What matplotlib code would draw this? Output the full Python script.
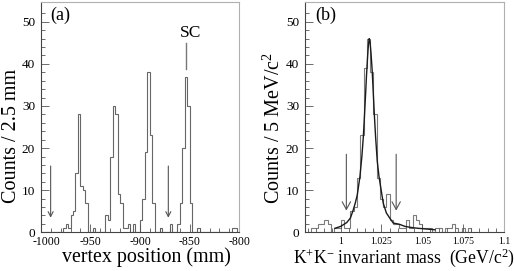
import numpy as np
import matplotlib
matplotlib.use("Agg")
import matplotlib.pyplot as plt
import matplotlib.transforms as mtransforms

plt.rcParams['font.family'] = ['Liberation Serif', 'DejaVu Serif']
plt.rcParams['mathtext.fontset'] = 'custom'
plt.rcParams['mathtext.rm'] = 'Liberation Serif'
plt.rcParams['mathtext.it'] = 'Liberation Serif:italic'
plt.rcParams['axes.unicode_minus'] = False

# (a) vertex position histogram, 2.5 mm bins from -1000 to -800
vtx_start = -1000.0
vtx_bin = 2.5
vtx_counts = [0, 0, 0, 0, 0, 0, 0, 0, 0, 1,
              2, 1, 4, 5, 14, 28, 11, 10, 7, 0,
              0, 1, 0, 0, 0, 0, 4, 3, 18, 30,
              28, 9, 7, 1, 1, 2, 0, 2, 0, 0,
              3, 8, 19, 38, 23, 7, 0, 0, 1, 0,
              0, 0, 2, 0, 0, 2, 7, 20, 37, 30,
              7, 0, 0, 1, 0, 0, 0, 0, 0, 0,
              0, 0, 0, 0, 0, 0, 0, 1, 1, 0]
vtx_arrows = [-990.0, -871.5]
sc_pos = -853.5

# (b) K+K- invariant mass histogram, 2 MeV bins from 0.982
mass_start = 0.982
mass_bin = 0.002
mass_counts = [1, 1, 2, 2, 3, 2, 0, 1, 1, 3,
               1, 1, 5, 6, 13, 23, 39, 46, 38, 28,
               13, 8, 6, 9, 3, 2, 2, 1, 1, 3,
               1, 4, 3, 2, 1, 1, 1, 0, 1, 1,
               0, 1, 1, 2, 1, 0, 1, 0, 1]
# fit curve
fit_x = [0.9965, 1.0000, 1.0037, 1.0060, 1.0077, 1.0090, 1.0102, 1.0118,
         1.0130, 1.0139, 1.0145, 1.0153, 1.0158, 1.0165, 1.0170, 1.0175,
         1.0180, 1.0186, 1.0193, 1.0200, 1.0207, 1.0214, 1.0224, 1.0235,
         1.0261, 1.0280, 1.0302, 1.0322, 1.0360, 1.0394, 1.0440, 1.0475,
         1.0520, 1.0577]
fit_y = [0.95, 1.4, 2.3, 3.4, 5.3, 7.0, 8.9, 13.2,
         18.0, 22.7, 27.0, 33.0, 37.0, 41.7, 44.5, 46.0,
         45.2, 42.5, 38.5, 33.0, 27.5, 22.7, 17.0, 13.2,
         6.9, 4.6, 3.3, 2.2, 1.9, 1.4, 1.1, 0.95,
         0.8, 0.6]
mass_arrows = [1.0035, 1.0340]

fig = plt.figure(figsize=(5.14, 2.71), dpi=100)
ax1 = fig.add_axes([0.0792, 0.1428, 0.3864, 0.8498])
ax2 = fig.add_axes([0.5928, 0.1428, 0.3877, 0.8498])

hist_col = '#666666'
arrow_col = '#555555'


def style_axes(ax):
    for s in ['left', 'bottom']:
        ax.spines[s].set_color('#444444')
        ax.spines[s].set_linewidth(0.8)
    for s in ['top', 'right']:
        ax.spines[s].set_color('#b0b0b0')
        ax.spines[s].set_linewidth(0.8)
    ax.tick_params(which='both', direction='in', top=False, right=False,
                   color='#555555', width=0.6)
    ax.tick_params(which='major', length=6)
    ax.tick_params(which='minor', length=3)
    ax.tick_params(axis='y', labelsize=9.5, pad=4)
    ax.set_ylim(0, 54.7)
    ax.set_yticks([0, 10, 20, 30, 40, 50])
    ax.set_yticks(np.arange(0, 54, 2), minor=True)


# ---- panel (a)
edges_a = vtx_start + vtx_bin * np.arange(len(vtx_counts) + 1)
ax1.stairs(vtx_counts, edges_a, color=hist_col, lw=0.8)
style_axes(ax1)
ax1.set_xlim(-1000, -800)
ax1.set_xticks([-1000, -950, -900, -850, -800])
ax1.set_xticks(np.arange(-1000, -799, 10), minor=True)
ax1.tick_params(axis='x', labelsize=8.5, pad=3)
# nudge the first label right so it clears the y "0"
first = ax1.get_xticklabels()[0]
first.set_transform(first.get_transform() +
                    mtransforms.ScaledTranslation(6 / 100, 0, fig.dpi_scale_trans))
for xa in vtx_arrows:
    ax1.annotate('', xy=(xa, 2.8), xytext=(xa, 16.4),
                 arrowprops=dict(arrowstyle='->,head_length=0.35,head_width=0.18',
                                 color=arrow_col, lw=0.8))
ax1.plot([sc_pos, sc_pos], [38.9, 44.9], color='#777777', lw=1.0)
ax1.text(-849, 46.4, 'SC', ha='center', va='baseline', fontsize=12.5)
ax1.text(0.047, 0.978, '(a)', transform=ax1.transAxes, ha='left', va='top',
         fontsize=13)
ax1.set_xlabel('vertex position (mm)', fontsize=14.4)
ax1.xaxis.set_label_coords(0.534, -0.065)
ax1.set_ylabel('Counts / 2.5 mm', fontsize=14.5)
ax1.yaxis.set_label_coords(-0.099, 0.418)

# ---- panel (b)
edges_b = mass_start + mass_bin * np.arange(len(mass_counts) + 1)
ax2.stairs(mass_counts, edges_b, color='#7a7a7a', lw=0.8)
ax2.plot(fit_x, fit_y, color='#1a1a1a', lw=1.0)
style_axes(ax2)
ax2.set_xlim(0.978, 1.1)
ax2.set_xticks([1.0, 1.025, 1.05, 1.075, 1.1])
ax2.set_xticklabels(['1', '1.025', '1.05', '1.075', '1.1'])
ax2.set_xticks(np.arange(0.98, 1.1001, 0.005), minor=True)
ax2.tick_params(axis='x', labelsize=7, pad=3.5)
for xa in mass_arrows:
    ax2.annotate('', xy=(xa, 4.5), xytext=(xa, 19.2),
                 arrowprops=dict(arrowstyle='->,head_length=0.55,head_width=0.3',
                                 color=arrow_col, lw=0.8))
ax2.text(0.052, 0.978, '(b)', transform=ax2.transAxes, ha='left', va='top',
         fontsize=13)
ax2.set_xlabel(r'K$^{+}$K$^{-}$ invariant mass  (GeV/c$^{2}$)', fontsize=12.7)
ax2.xaxis.set_label_coords(0.496, -0.06)
ax2.set_ylabel(r'Counts / 5 MeV/c$^{2}$', fontsize=14.5)
ax2.yaxis.set_label_coords(-0.099, 0.455)

fig.savefig('out.png', dpi=100)
